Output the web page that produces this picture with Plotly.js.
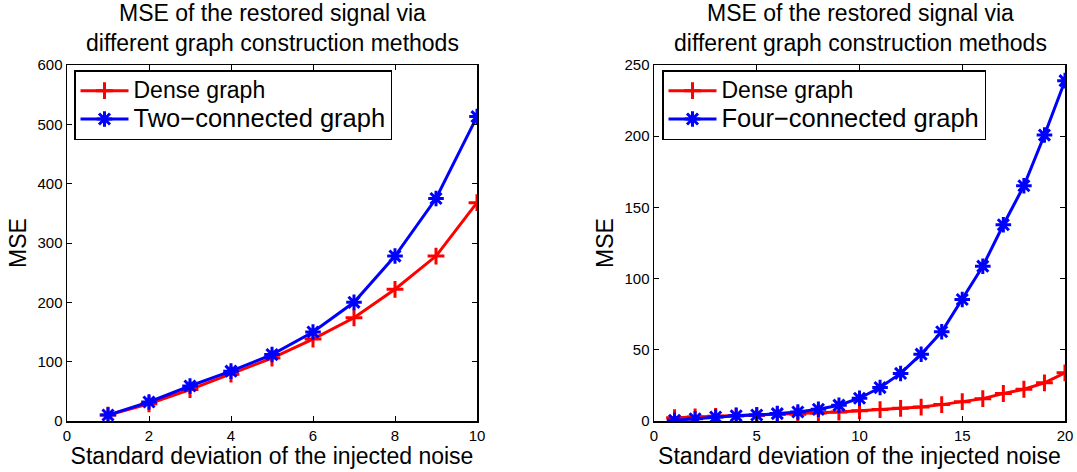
<!DOCTYPE html>
<html>
<head>
<meta charset="utf-8">
<script src="https://cdn.plot.ly/plotly-3.0.1.min.js"></script>
<style>
  html, body { margin: 0; padding: 0; background: #fff; }
  #chart { width: 1077px; height: 472px; }
</style>
</head>
<body>
<div id="chart"></div>
<script>
// Noise levels (standard deviation) for each experiment
const noiseLeft = [1, 2, 3, 4, 5, 6, 7, 8, 9, 10];
const noiseRight = [1, 2, 3, 4, 5, 6, 7, 8, 9, 10, 11, 12, 13, 14, 15, 16, 17, 18, 19, 20];

// MSE of the restored signal, left panel
const mseDenseLeft = [10, 29, 53, 79, 106, 138, 174, 222, 278, 368];
const mseTwoConnected = [10, 32, 59, 84, 112, 150, 200, 278, 375, 513];

// MSE of the restored signal, right panel
const mseDenseRight = [2.3, 2.8, 3.3, 3.7, 4.0, 4.5, 4.8, 5.6, 6.3, 7.2, 8.0, 8.9, 9.8, 11.5, 13.6, 15.7, 19.3, 22.3, 26.8, 33.8];
const mseFourConnected = [0.5, 1.6, 2.8, 3.7, 4.2, 5.2, 6.3, 8.2, 11.1, 16.0, 23.5, 33.4, 46.9, 62.7, 85.3, 108.7, 137.8, 165.2, 200.8, 239];

// Text
const panelTitle = 'MSE of the restored signal via<br>different graph construction methods';
const xTitle = 'Standard deviation of the injected noise';
const yTitle = 'MSE';
const nameDense = 'Dense graph';
const nameTwo = 'Two\u2212connected graph';
const nameFour = 'Four\u2212connected graph';

const FONT = 'Liberation Sans, Arial, Helvetica, sans-serif';
const W = 1077, H = 472;
const RED = '#ff0000', BLUE = '#0000ff';

function px(x) { return x / W; }
function py(y) { return 1 - y / H; }

const denseStyle = {
  mode: 'lines+markers',
  line: { color: RED, width: 3 },
  marker: { symbol: 'cross-thin-open', size: 12, color: RED, line: { color: RED, width: 3 } }
};
const sparseStyle = {
  mode: 'lines+markers',
  line: { color: BLUE, width: 3 },
  marker: { symbol: 'asterisk-open', size: 13, color: BLUE, line: { color: BLUE, width: 3 } }
};

// legend entries: the second series is written a little larger
const sized = (s, n) => '<span style="font-size:' + n + 'px">' + s + '</span>';

const traces = [
  Object.assign({ x: noiseLeft, y: mseDenseLeft, name: sized(nameDense, 23), xaxis: 'x', yaxis: 'y', legend: 'legend' }, denseStyle),
  Object.assign({ x: noiseLeft, y: mseTwoConnected, name: sized(nameTwo, 25.5), xaxis: 'x', yaxis: 'y', legend: 'legend' }, sparseStyle),
  Object.assign({ x: noiseRight, y: mseDenseRight, name: sized(nameDense, 23), xaxis: 'x2', yaxis: 'y2', legend: 'legend2' }, denseStyle),
  Object.assign({ x: noiseRight, y: mseFourConnected, name: sized(nameFour, 25.5), xaxis: 'x2', yaxis: 'y2', legend: 'legend2' }, sparseStyle)
];

function axisBase() {
  return {
    showgrid: false, zeroline: false,
    showline: true, linecolor: '#000', linewidth: 1.5, mirror: 'ticks',
    ticks: 'inside', ticklen: 5, tickwidth: 1, tickcolor: '#000',
    tickfont: { family: FONT, size: 15, color: '#000' },
    automargin: false, fixedrange: true
  };
}

const yDomain = [py(421), py(65)];

function legendBox(left) {
  return {
    x: px(left), y: py(70), xanchor: 'left', yanchor: 'top',
    bgcolor: '#fff', bordercolor: '#000', borderwidth: 1.5,
    font: { family: FONT, size: 19.5, color: '#000' },
    tracegroupgap: 0, itemwidth: 48
  };
}

const layout = {
  width: W, height: H,
  margin: { l: 0, r: 0, t: 0, b: 0 },
  paper_bgcolor: '#fff', plot_bgcolor: '#fff',
  font: { family: FONT, color: '#000' },
  showlegend: true,
  xaxis: Object.assign(axisBase(), {
    domain: [px(67), px(477)], range: [0, 10], dtick: 2, anchor: 'y',
    title: { text: xTitle, font: { family: FONT, size: 23 }, standoff: 4 }
  }),
  yaxis: Object.assign(axisBase(), {
    domain: yDomain, range: [0, 600], dtick: 100, anchor: 'x',
    title: { text: yTitle, font: { family: FONT, size: 23 }, standoff: 4 }
  }),
  xaxis2: Object.assign(axisBase(), {
    domain: [px(654), px(1065)], range: [0, 20], dtick: 5, anchor: 'y2',
    title: { text: xTitle, font: { family: FONT, size: 23 }, standoff: 4 }
  }),
  yaxis2: Object.assign(axisBase(), {
    domain: yDomain, range: [0, 250], dtick: 50, anchor: 'x2',
    title: { text: yTitle, font: { family: FONT, size: 23 }, standoff: 4 }
  }),
  legend: legendBox(74),
  legend2: legendBox(662),
  annotations: [
    { text: panelTitle, xref: 'paper', yref: 'paper', x: px(272), y: py(28),
      xanchor: 'center', yanchor: 'middle', showarrow: false,
      font: { family: FONT, size: 23, color: '#000' } },
    { text: panelTitle, xref: 'paper', yref: 'paper', x: px(860), y: py(28),
      xanchor: 'center', yanchor: 'middle', showarrow: false,
      font: { family: FONT, size: 23, color: '#000' } }
  ]
};

Plotly.newPlot('chart', traces, layout, { displayModeBar: false, staticPlot: true });
</script>
</body>
</html>
